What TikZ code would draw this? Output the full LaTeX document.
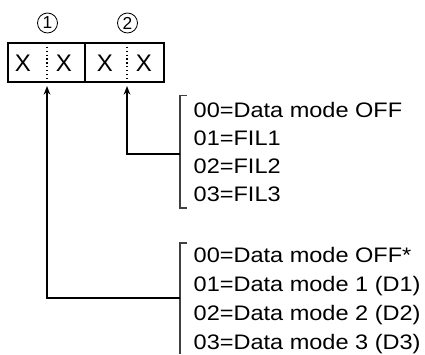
\documentclass[tikz,border=0pt]{standalone}
\usepackage{fontspec}
\setmainfont{Liberation Sans}
\newfontfamily\widesans[FakeStretch=1.12]{Liberation Sans}
\usetikzlibrary{positioning,arrows.meta}

\begin{document}
\begin{tikzpicture}[
  x=0.75pt, y=-0.75pt,
  >={Stealth[length=6.5pt,width=5pt]},
  line width=1.05pt,
  cell/.style={draw, minimum width=117pt, minimum height=29.25pt, inner sep=0pt},
  letter/.style={font=\fontsize{18}{18}\selectfont, inner sep=0pt},
  num/.style={circle, draw, line width=0.65pt, minimum size=15pt, inner sep=0pt, font=\fontsize{13}{13}\selectfont},
  opt/.style={anchor=base west, inner sep=0pt, font=\widesans\fontsize{15.75}{15.75}\selectfont},
  brk/.style={draw=black!75, line width=1.05pt}
]
\useasboundingbox (0,0) rectangle (425,354);
% digit positions
\node[num] (n1) at (47.5,23) {1};
\node[num] (n2) at (127.5,23) {2};
\node[cell] (box) at (86,62.5) {};
\draw (85,43) -- (85,82);
\draw[dotted, line width=0.9pt] (47,43) -- (47,82);
\draw[dotted, line width=0.9pt] (127,43) -- (127,82);
\node[letter] (x1) at (23,63) {X};
\node[letter] (x2) at (64,63) {X};
\node[letter] (x3) at (105,63) {X};
\node[letter] (x4) at (144,63) {X};
% option lists
\foreach \t [count=\i from 0] in {00=Data mode OFF, 01=FIL1, 02=FIL2, 03=FIL3}
  \node[opt] (fil\i) at (193,117.3+28.2*\i) {\t};
\foreach \t [count=\i from 0] in {00=Data mode OFF*, 01=Data mode 1 (D1), 02=Data mode 2 (D2), 03=Data mode 3 (D3)}
  \node[opt] (dm\i) at (193,262+29*\i) {\t};
% brackets
\draw[brk] (187,95.5) -- (180,95.5) -- (180,208) -- (187,208);
\draw[brk] (187,243) -- (180,243) -- (180,354);
\coordinate (s2) at (180,154);
\coordinate (s1) at (180,298);
\coordinate (t2) at (127,86);
\coordinate (t1) at (47,86);
\draw[->] (s2) -| (t2);
\draw[->] (s1) -| (t1);
\end{tikzpicture}
\end{document}
